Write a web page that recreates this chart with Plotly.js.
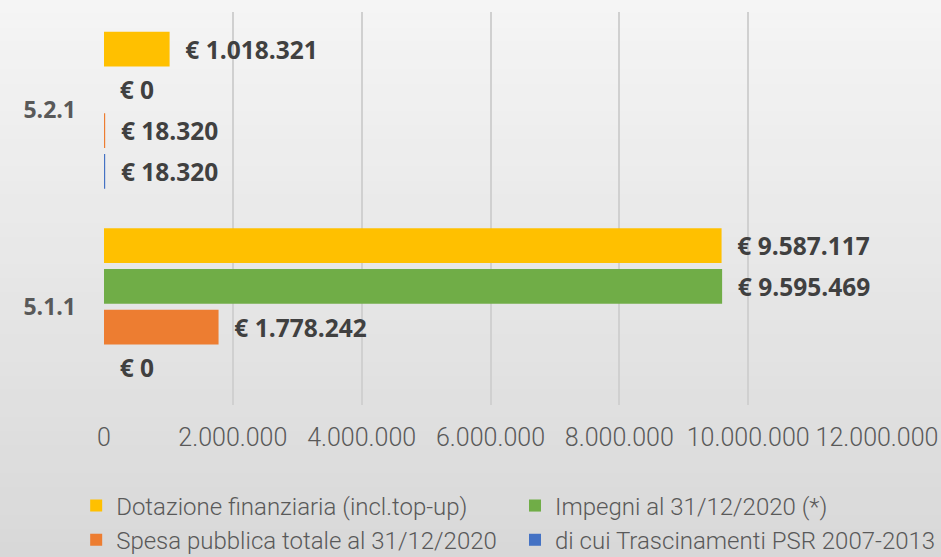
<!DOCTYPE html>
<html>
<head>
<meta charset="utf-8">
<script src="https://cdn.plot.ly/plotly-3.0.1.min.js"></script>
<style>html,body{margin:0;padding:0;background:#e6e6e6;}#chart{width:941px;height:557px;}</style>
</head>
<body>
<div id="chart"></div>
<script>
// Data
const categories = ['5.1.1', '5.2.1'];
const dotazione = [9587117, 1018321];
const impegni = [9595469, 0];
const spesa = [1778242, 18320];
const trascinamenti = [0, 18320];
const seriesNames = [
  'Dotazione finanziaria (incl.top-up)',
  'Impegni al 31/12/2020 (*)',
  'Spesa pubblica totale al 31/12/2020',
  'di cui Trascinamenti PSR 2007-2013'
];
const tickVals = [0, 2000000, 4000000, 6000000, 8000000, 10000000, 12000000];
const tickText = ['0', '2.000.000', '4.000.000', '6.000.000', '8.000.000', '10.000.000', '12.000.000'];

const colors = ['#FFC000', '#70AD47', '#ED7D31', '#4472C4'];
const legendIds = ['legend', 'legend2', 'legend', 'legend2'];
const labelFont = {family: 'Open Sans', size: 24.5, color: '#404040', weight: 'bold'};

function mk(vals, idx) {
  return {
    type: 'bar', orientation: 'h',
    y: categories, x: vals,
    name: seriesNames[idx],
    legend: legendIds[idx],
    legendrank: idx + 1,
    marker: {color: colors[idx], line: {width: 0}},
    texttemplate: '\u00a0\u00a0€ %{x:,.0f}',
    textposition: 'outside',
    textfont: labelFont,
    cliponaxis: false,
    constraintext: 'none',
    hoverinfo: 'skip'
  };
}
// Bottom-to-top order inside each group
const data = [mk(trascinamenti, 3), mk(spesa, 2), mk(impegni, 1), mk(dotazione, 0)];

// background gradient bands
const shapes = [];
const nb = 40;
const pTop = 1.0305, pBot = -0.3868;
for (let i = 0; i < nb; i++) {
  const t = (i + 0.5) / nb;
  const c = Math.round(245 - t * 29);
  shapes.push({
    type: 'rect', xref: 'paper', yref: 'paper', layer: 'below',
    x0: -0.2, x1: 1.2,
    y0: pTop - (pTop - pBot) * i / nb + 0.001,
    y1: pTop - (pTop - pBot) * (i + 1) / nb - 0.001,
    line: {width: 0}, fillcolor: `rgb(${c},${c},${c})`
  });
}

const legendFont = {family: 'Roboto', size: 24, color: '#595959', weight: 300};
const legendBase = {
  orientation: 'v',
  xref: 'paper', xanchor: 'left',
  yref: 'container', y: 0.132, yanchor: 'top',
  bgcolor: 'rgba(0,0,0,0)',
  font: legendFont,
  tracegroupgap: 0,
  traceorder: 'normal'
};

const layout = {
  width: 941, height: 557,
  margin: {l: 104, r: 64, t: 12, b: 152},
  paper_bgcolor: '#e6e6e6',
  plot_bgcolor: 'rgba(0,0,0,0)',
  separators: ',.',
  barmode: 'group',
  bargap: 0.17,
  bargroupgap: 0.15,
  showlegend: true,
  shapes: shapes,
  xaxis: {
    range: [0, 12000000],
    tickvals: tickVals, ticktext: tickText,
    showgrid: true, gridcolor: '#d0d0d0', gridwidth: 2,
    zeroline: false, showline: false,
    ticks: '', ticklabelstandoff: 15,
    tickfont: {family: 'Roboto', size: 25, color: '#595959', weight: 300}
  },
  yaxis: {
    type: 'category',
    showgrid: false, zeroline: false, showline: false,
    ticks: '', ticklabelstandoff: 27,
    tickfont: {family: 'Open Sans', size: 23, color: '#595959', weight: 'bold'}
  },
  legend: Object.assign({}, legendBase, {x: -0.036}),
  legend2: Object.assign({}, legendBase, {x: 0.532})
};

Plotly.newPlot('chart', data, layout, {displayModeBar: false, staticPlot: true});
</script>
</body>
</html>
